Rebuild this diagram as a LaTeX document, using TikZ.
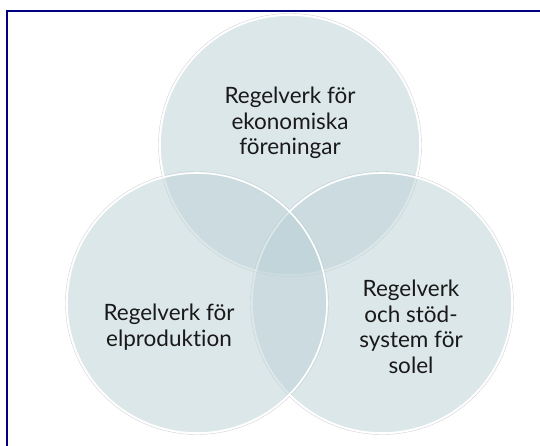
\documentclass[tikz,border=0pt]{standalone}
\usepackage{fontspec}
\setmainfont{Lato}[Ligatures=NoCommon]
\definecolor{circfill}{RGB}{187,209,215}
\definecolor{framecol}{RGB}{0,0,128}
\definecolor{txt}{RGB}{25,25,25}
\begin{document}
\begin{tikzpicture}[x=1pt,y=-1pt,
  venn/.style={circle,minimum size=260pt,inner sep=0pt,fill=circfill,fill opacity=0.5,draw=white,line width=1.6pt},
  ring/.style={circle,minimum size=263pt,inner sep=0pt,draw=black!18,line width=0.4pt},
  lbl/.style={align=center,font=\fontsize{22.5}{25.5}\selectfont,text=txt}]
\useasboundingbox (0,0) rectangle (540,445);
\fill[white] (0,0) rectangle (540,445);
% faint outer rings
\node[ring] (rt) at (290,145) {};
\node[ring] (rr) at (382,303) {};
\node[ring] (rl) at (197,303) {};
% circles
\node[venn] (top) at (290,145) {};
\node[venn] (right) at (382,303) {};
\node[venn] (left) at (197,303) {};
% labels
\node[lbl] (ttop) at (290,123) {Regelverk för\\ekonomiska\\föreningar};
\node[lbl] (tleft) at (169,327) {Regelverk för\\elproduktion};
\node[lbl] (tright) at (411,327) {Regelverk\\och stöd-\\system för\\solel};
% frame
\coordinate (f1) at (7,450);
\coordinate (f2) at (7,11);
\coordinate (f3) at (545,11);
\draw[framecol,line width=2.2pt] (f1) -- (f2) -- (f3);
\end{tikzpicture}
\end{document}
